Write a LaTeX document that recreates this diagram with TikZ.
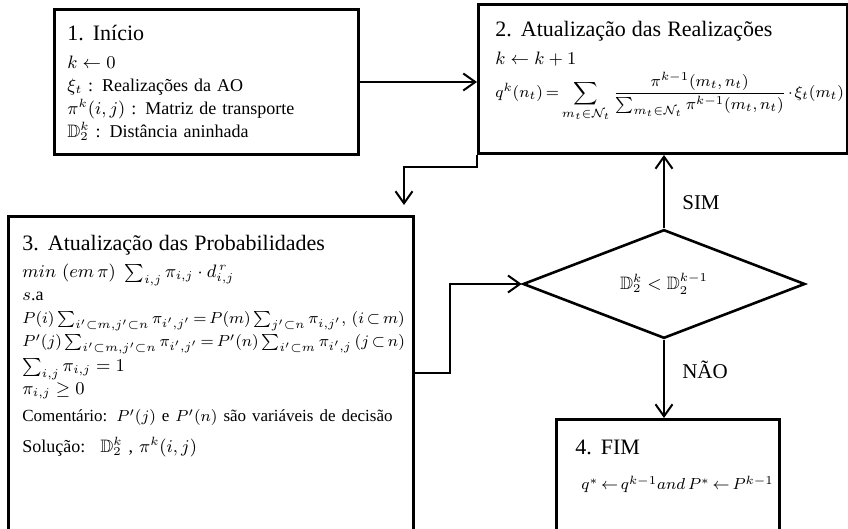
\documentclass[tikz,border=0pt]{standalone}
\usepackage{amsmath,amssymb}
\usepackage{fontspec}
\setmainfont{Liberation Serif}
\usetikzlibrary{arrows.meta,calc,positioning,shapes.geometric}
\tikzset{
    flow chart/.style = {x=0.5pt, y=-0.5pt,
                         >={Straight Barb[length=6pt,width=8.5pt]}},
    line/.style       = {line width=1pt},
    block/.style      = {draw, line width=1.5pt, anchor=north west,
                         inner sep=0pt},
    blocktext/.style  = {anchor=north west, align=left, inner sep=0pt,
                         text width=260pt,
                         font=\fontsize{9}{11.5}\selectfont},
    decision/.style   = {draw, diamond, line width=1.3pt, inner sep=0pt,
                         minimum width=141pt, minimum height=49pt,
                         font=\fontsize{9}{11.5}\selectfont},
    answer/.style     = {font=\fontsize{10.5}{12}\selectfont}
}
\newcommand{\steptitle}[1]{{\fontsize{11}{11.5}\selectfont #1}}
\newcommand{\Dnest}{\mathbb{D}_2}
\newcommand{\smallmath}[1]{{\fontsize{8}{11.5}\selectfont
    \thickmuskip=3mu plus 2mu\medmuskip=2mu plus 1mu #1}}

\begin{document}
\begin{tikzpicture}[flow chart]
\useasboundingbox (0,0) rectangle (848,529);

% Process blocks
\node[block, minimum width=152pt, minimum height=72.5pt] (inicio) at (53,8) {};
\node[block, minimum width=184.5pt, minimum height=74.5pt] (realiz) at (477,3) {};
\node[block, minimum width=202.5pt, minimum height=162.5pt] (prob) at (7,215) {};
\node[block, minimum width=111.5pt, minimum height=61pt] (fim) at (555,418) {};

% Stopping test
\node[decision] (teste) at (664,284)
    {$\Dnest^{k} < \Dnest^{k-1}$};

% Block contents
\node[blocktext] (inicio text) at ([shift={(14,17)}]inicio.north west)
    {\steptitle{1. Início}\\[2.5pt]
     $k \leftarrow 0$\\
     $\xi_t$ : Realizações da AO\\
     $\pi^k(i,j)$ : Matriz de transporte\\
     $\Dnest^{k}$ : Distância aninhada};
\node[blocktext] (realiz text) at ([shift={(18,18)}]realiz.north west)
    {\steptitle{2. Atualização das Realizações}\\[2.5pt]
     $k \leftarrow k+1$\\[2pt]
     \smallmath{$q^k(n_t) = \displaystyle\sum_{m_t\in\mathcal{N}_t}
        \frac{\pi^{k-1}(m_t,n_t)}{\sum_{m_t\in\mathcal{N}_t}\pi^{k-1}(m_t,n_t)}
        \cdot \xi_t(m_t)$}};
\node[blocktext] (prob text) at ([shift={(15,20)}]prob.north west)
    {\steptitle{3. Atualização das Probabilidades}\\[2pt]
     $min\ (em\,\pi)\ \sum_{i,j}\pi_{i,j}\cdot d_{i,j}^{\,r}$\\
     $s$.a\\
     \smallmath{$P(i)\sum_{i'\subset m,j'\subset n}\pi_{i',j'} = P(m)\sum_{j'\subset n}\pi_{i,j'},\;(i\subset m)$}\\
     \smallmath{$P'(j)\sum_{i'\subset m,j'\subset n}\pi_{i',j'} = P'(n)\sum_{i'\subset m}\pi_{i',j}\;(j\subset n)$}\\[1pt]
     $\sum_{i,j}\pi_{i,j} = 1$\\
     $\pi_{i,j} \geq 0$\\[2pt]
     {\fontsize{8.5}{11.5}\selectfont Comentário: $P'(j)$ e $P'(n)$ são variáveis de decisão}\\[4pt]
     Solução: \ $\Dnest^{k}$ , $\pi^k(i,j)$};
\node[blocktext] (fim text) at ([shift={(20,22)}]fim.north west)
    {\steptitle{4. FIM}\\[6pt]
     \hspace*{3pt}\smallmath{$q^{*} \leftarrow q^{k-1} and\, P^{*} \leftarrow P^{k-1}$}};

% Connectors
\draw[->, line] (inicio.east) -- (inicio.east -| realiz.west);
\coordinate (bend) at (404,167);
\draw[->, line, shorten >=5pt] (realiz.south west) |- (bend) -- (bend |- prob.north);
\coordinate (jog) at (450,373);
\draw[->, line] (jog -| prob.east) -- (jog) |- (teste.west);
\draw[->, line] (teste.north) -- (teste.north |- realiz.south);
\draw[->, line] (teste.south) -- (teste.south |- fim.north);

% Branch labels
\node[answer] (sim) at (701,203) {SIM};
\node[answer] (nao) at (705,370) {NÃO};

\end{tikzpicture}
\end{document}
